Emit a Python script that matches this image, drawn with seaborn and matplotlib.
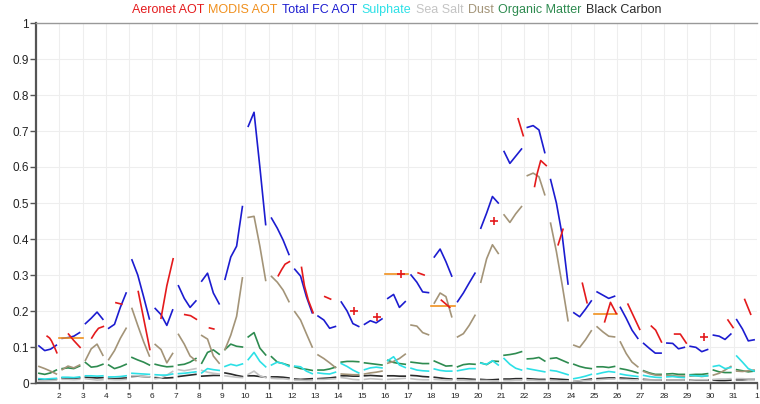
import numpy as np
import pandas as pd
import matplotlib
matplotlib.use('Agg')
import matplotlib.pyplot as plt
import seaborn as sns
from matplotlib.lines import Line2D

# forecast values: 4 per day (03, 09, 15, 21 UTC), days 1..31
days = list(range(1, 32))
fc_hours = [3, 9, 15, 21]

total_fc = [
    0.103, 0.090, 0.094, 0.105,  0.124, 0.126, 0.130, 0.140,  0.165, 0.180, 0.197, 0.177,
    0.152, 0.163, 0.210, 0.250,  0.342, 0.300, 0.240, 0.178,  0.207, 0.190, 0.160, 0.203,
    0.270, 0.235, 0.210, 0.228,  0.283, 0.305, 0.250, 0.220,  0.288, 0.350, 0.380, 0.490,
    0.713, 0.752, 0.600, 0.440,  0.458, 0.430, 0.397, 0.357,  0.316, 0.297, 0.240, 0.195,
    0.186, 0.175, 0.152, 0.157,  0.225, 0.200, 0.165, 0.157,  0.163, 0.173, 0.167, 0.178,
    0.235, 0.246, 0.210, 0.226,  0.300, 0.280, 0.253, 0.251,  0.350, 0.372, 0.337, 0.297,
    0.226, 0.250, 0.278, 0.305,  0.430, 0.472, 0.518, 0.500,  0.643, 0.610, 0.630, 0.650,
    0.710, 0.715, 0.703, 0.640,  0.565, 0.500, 0.410, 0.275,  0.195, 0.184, 0.205, 0.228,
    0.253, 0.244, 0.235, 0.241,  0.210, 0.180, 0.147, 0.124,  0.110, 0.096, 0.083, 0.083,
    0.111, 0.110, 0.095, 0.099,  0.102, 0.099, 0.087, 0.093,  0.133, 0.130, 0.121, 0.136,
    0.176, 0.150, 0.117, 0.120,
]
dust = [
    0.046, 0.040, 0.033, 0.025,  0.037, 0.047, 0.042, 0.050,  0.063, 0.095, 0.108, 0.077,
    0.065, 0.090, 0.124, 0.152,  0.207, 0.160, 0.115, 0.075,  0.107, 0.093, 0.056, 0.082,
    0.135, 0.108, 0.075, 0.062,  0.132, 0.122, 0.075, 0.055,  0.093, 0.133, 0.185, 0.292,
    0.460, 0.463, 0.380, 0.285,  0.296, 0.280, 0.258, 0.226,  0.198, 0.175, 0.137, 0.100,
    0.078, 0.068, 0.056, 0.043,  0.025, 0.024, 0.023, 0.023,  0.025, 0.028, 0.030, 0.033,
    0.055, 0.060, 0.068, 0.080,  0.161, 0.158, 0.140, 0.134,  0.222, 0.250, 0.240, 0.184,
    0.128, 0.137, 0.160, 0.188,  0.280, 0.345, 0.384, 0.360,  0.467, 0.446, 0.470, 0.490,
    0.576, 0.583, 0.573, 0.523,  0.444, 0.365, 0.272, 0.173,  0.105, 0.099, 0.120, 0.145,
    0.156, 0.142, 0.130, 0.128,  0.114, 0.082, 0.058, 0.045,  0.032, 0.026, 0.022, 0.021,
    0.020, 0.020, 0.019, 0.019,  0.019, 0.020, 0.018, 0.020,  0.022, 0.027, 0.036, 0.046,
    0.033, 0.032, 0.034, 0.036,
]
organic = [
    0.027, 0.024, 0.028, 0.036,  0.040, 0.042, 0.040, 0.047,  0.057, 0.044, 0.046, 0.052,
    0.050, 0.040, 0.045, 0.052,  0.071, 0.064, 0.058, 0.050,  0.052, 0.048, 0.045, 0.046,
    0.050, 0.052, 0.058, 0.068,  0.055, 0.085, 0.092, 0.080,  0.093, 0.108, 0.102, 0.100,
    0.128, 0.140, 0.097, 0.078,  0.073, 0.058, 0.054, 0.049,  0.045, 0.040, 0.038, 0.035,
    0.036, 0.036, 0.039, 0.044,  0.058, 0.060, 0.060, 0.059,  0.056, 0.054, 0.052, 0.050,
    0.063, 0.057, 0.054, 0.052,  0.058, 0.056, 0.054, 0.054,  0.061, 0.054, 0.047, 0.048,
    0.045, 0.051, 0.053, 0.052,  0.056, 0.051, 0.061, 0.060,  0.077, 0.079, 0.082, 0.087,
    0.067, 0.068, 0.071, 0.061,  0.068, 0.070, 0.063, 0.056,  0.052, 0.046, 0.042, 0.040,
    0.045, 0.045, 0.043, 0.046,  0.040, 0.037, 0.033, 0.028,  0.034, 0.028, 0.024, 0.024,
    0.025, 0.026, 0.024, 0.024,  0.023, 0.024, 0.024, 0.026,  0.036, 0.031, 0.029, 0.029,
    0.037, 0.034, 0.031, 0.033,
]
sulphate = [
    0.012, 0.011, 0.012, 0.013,  0.016, 0.016, 0.015, 0.017,  0.020, 0.020, 0.019, 0.020,
    0.017, 0.017, 0.018, 0.020,  0.027, 0.026, 0.025, 0.024,  0.023, 0.022, 0.022, 0.025,
    0.026, 0.027, 0.029, 0.031,  0.028, 0.040, 0.037, 0.035,  0.046, 0.052, 0.048, 0.053,
    0.065, 0.085, 0.060, 0.045,  0.050, 0.058, 0.054, 0.046,  0.047, 0.045, 0.033, 0.026,
    0.028, 0.026, 0.025, 0.030,  0.054, 0.046, 0.036, 0.028,  0.037, 0.042, 0.044, 0.042,
    0.062, 0.073, 0.050, 0.043,  0.041, 0.036, 0.034, 0.033,  0.039, 0.035, 0.033, 0.033,
    0.034, 0.037, 0.040, 0.040,  0.055, 0.052, 0.062, 0.050,  0.068, 0.052, 0.041, 0.036,
    0.040, 0.037, 0.034, 0.031,  0.035, 0.033, 0.028, 0.023,  0.012, 0.015, 0.019, 0.024,
    0.025, 0.029, 0.032, 0.030,  0.025, 0.022, 0.020, 0.018,  0.021, 0.018, 0.016, 0.015,
    0.017, 0.018, 0.016, 0.015,  0.021, 0.020, 0.019, 0.020,  0.046, 0.049, 0.040, 0.043,
    0.075, 0.058, 0.040, 0.033,
]
sea_salt = [
    0.006, 0.006, 0.007, 0.008,  0.010, 0.010, 0.009, 0.010,  0.012, 0.010, 0.008, 0.009,
    0.010, 0.009, 0.009, 0.010,  0.020, 0.020, 0.018, 0.017,  0.012, 0.014, 0.022, 0.032,
    0.037, 0.034, 0.037, 0.040,  0.035, 0.030, 0.027, 0.025,  0.020, 0.018, 0.016, 0.015,
    0.024, 0.033, 0.020, 0.015,  0.013, 0.012, 0.012, 0.010,  0.008, 0.008, 0.007, 0.007,
    0.010, 0.010, 0.011, 0.012,  0.015, 0.013, 0.010, 0.009,  0.010, 0.012, 0.011, 0.010,
    0.010, 0.011, 0.012, 0.013,  0.012, 0.010, 0.009, 0.009,  0.010, 0.009, 0.008, 0.008,
    0.008, 0.008, 0.007, 0.007,  0.007, 0.007, 0.006, 0.006,  0.007, 0.007, 0.008, 0.008,
    0.008, 0.008, 0.007, 0.007,  0.007, 0.007, 0.006, 0.006,  0.005, 0.006, 0.007, 0.008,
    0.009, 0.010, 0.011, 0.011,  0.010, 0.010, 0.009, 0.009,  0.008, 0.008, 0.008, 0.008,
    0.008, 0.008, 0.008, 0.008,  0.008, 0.009, 0.009, 0.009,  0.010, 0.011, 0.011, 0.012,
    0.012, 0.012, 0.011, 0.011,
]
black_carbon = [
    0.009, 0.008, 0.009, 0.011,  0.014, 0.013, 0.013, 0.014,  0.016, 0.015, 0.014, 0.015,
    0.013, 0.012, 0.013, 0.014,  0.018, 0.019, 0.018, 0.017,  0.015, 0.014, 0.014, 0.015,
    0.018, 0.020, 0.022, 0.024,  0.019, 0.020, 0.021, 0.021,  0.028, 0.025, 0.021, 0.018,
    0.020, 0.020, 0.018, 0.016,  0.017, 0.017, 0.016, 0.014,  0.011, 0.010, 0.011, 0.012,
    0.012, 0.013, 0.014, 0.016,  0.020, 0.020, 0.019, 0.019,  0.020, 0.021, 0.020, 0.019,
    0.020, 0.020, 0.019, 0.019,  0.021, 0.020, 0.018, 0.017,  0.016, 0.014, 0.012, 0.011,
    0.012, 0.012, 0.011, 0.010,  0.010, 0.009, 0.009, 0.010,  0.011, 0.011, 0.012, 0.012,
    0.012, 0.011, 0.010, 0.010,  0.012, 0.011, 0.010, 0.009,  0.004, 0.006, 0.009, 0.011,
    0.012, 0.013, 0.014, 0.014,  0.014, 0.013, 0.012, 0.011,  0.010, 0.009, 0.008, 0.008,
    0.009, 0.009, 0.009, 0.009,  0.008, 0.008, 0.008, 0.008,  0.008, 0.007, 0.007, 0.008,
    0.009, 0.009, 0.010, 0.010,
]

# Aeronet observations (day, hour UTC, AOT)
aeronet_day = [1, 1, 1, 1, 1, 2, 2, 2, 3, 3, 3, 3, 4, 4, 5, 5, 6, 6, 6, 7, 7, 7, 8, 8,
               11, 11, 11, 11, 12, 12, 12, 12, 13, 13, 14, 15, 16, 17, 17, 18, 18, 20,
               21, 21, 22, 22, 22, 22, 23, 23, 24, 24, 25, 25, 25, 26, 26, 27, 27, 27,
               28, 28, 28, 29, 30, 30, 31, 31]
aeronet_hour = [11.5, 14, 16, 19, 21.5, 9.5, 15, 21.5, 9.5, 13, 16.5, 21.5, 10.5, 16.5,
                9.5, 21.5, 9, 15, 21.5, 9.5, 15.5, 21.5, 11, 15.5,
                10, 13.5, 17, 21.5, 10, 13, 17, 22, 10, 16, 16, 16, 16.3, 10.3, 16.5,
                10.3, 19, 16.3, 17.5, 22.8, 10.5, 13, 16.8, 22.5, 10.8, 15.8,
                11.8, 16.6, 10.8, 16.8, 22.8, 10.8, 23, 11, 15.4, 21.4,
                11, 16.8, 23, 17, 18, 23.3, 11.3, 17.5]
aeronet_aot = [0.130, 0.125, 0.117, 0.100, 0.084, 0.136, 0.118, 0.099, 0.125, 0.140,
               0.152, 0.157, 0.223, 0.219, 0.254, 0.093, 0.180, 0.270, 0.345, 0.190,
               0.187, 0.177, 0.153, 0.150,
               0.298, 0.315, 0.330, 0.337, 0.321, 0.270, 0.230, 0.195, 0.240, 0.233,
               0.200, 0.184, 0.302, 0.306, 0.300, 0.230, 0.210, 0.451, 0.734, 0.687,
               0.546, 0.580, 0.618, 0.604, 0.384, 0.427, 0.277, 0.223, 0.170, 0.224,
               0.193, 0.219, 0.149, 0.158, 0.147, 0.114, 0.136, 0.136, 0.111, 0.128,
               0.175, 0.154, 0.232, 0.191]

# MODIS daily values
modis_day = [2, 16, 18, 25]
modis_aot = [0.125, 0.302, 0.215, 0.193]

colors = {
    'Aeronet AOT': '#e41a1c',
    'MODIS AOT': '#f0901e',
    'Total FC AOT': '#1c1cd0',
    'Sulphate': '#2de0e6',
    'Sea Salt': '#c4c4c4',
    'Dust': '#a39478',
    'Organic Matter': '#2e8b50',
    'Black Carbon': '#2a2a2a',
}
legend_order = ['Aeronet AOT', 'MODIS AOT', 'Total FC AOT', 'Sulphate', 'Sea Salt',
                'Dust', 'Organic Matter', 'Black Carbon']
draw_order = ['Black Carbon', 'Sea Salt', 'Organic Matter', 'Dust', 'Sulphate',
              'Total FC AOT', 'MODIS AOT', 'Aeronet AOT']

# long table
rows = []
fc_series = {'Total FC AOT': total_fc, 'Dust': dust, 'Organic Matter': organic,
             'Sulphate': sulphate, 'Sea Salt': sea_salt, 'Black Carbon': black_carbon}
for name, vals in fc_series.items():
    for i, d in enumerate(days):
        for j, h in enumerate(fc_hours):
            rows.append((name, d, d + h / 24, vals[i * 4 + j]))
for d, v in zip(modis_day, modis_aot):
    rows.append(('MODIS AOT', d, d, v))
    rows.append(('MODIS AOT', d, d + 1, v))
for d, h, v in zip(aeronet_day, aeronet_hour, aeronet_aot):
    rows.append(('Aeronet AOT', d, d + h / 24, v))
df = pd.DataFrame(rows, columns=['series', 'day', 'time', 'aot'])

fig = plt.figure(figsize=(7.6, 4.04), dpi=100)
ax = fig.add_axes([36 / 760, 21 / 404, 721 / 760, 360 / 404])
plt.rcParams['font.family'] = ['Liberation Sans', 'DejaVu Sans']

sns.lineplot(data=df, x='time', y='aot', hue='series', units='day', estimator=None,
             hue_order=draw_order, palette=colors, sort=True, lw=1.2, legend=False, ax=ax)

# single Aeronet points drawn as crosses
aer = df[df['series'] == 'Aeronet AOT']
single = aer[aer.groupby('day')['day'].transform('size') == 1]
ax.scatter(single['time'], single['aot'], marker='+', s=40, lw=1.2,
           color=colors['Aeronet AOT'], zorder=5)

ax.set_xlim(1, 32)
ax.set_ylim(0, 1)
ax.set_xticks(range(2, 33))
ax.set_xticklabels([str(d) for d in range(2, 32)] + ['1'], fontsize=6, family='Liberation Sans')
ax.set_yticks(np.arange(0, 1.01, 0.1))
ax.set_yticklabels(['0', '0.1', '0.2', '0.3', '0.4', '0.5', '0.6', '0.7', '0.8', '0.9', '1'],
                   fontsize=8.5, family='Liberation Sans')
ax.set_xlabel('')
ax.set_ylabel('')
ax.grid(True, color='#eeeeee', lw=0.8)
ax.set_axisbelow(True)
ax.tick_params(axis='both', length=4, width=1, color='#555555', labelcolor='#222222')
ax.tick_params(axis='x', pad=3)
ax.tick_params(axis='y', pad=1)
for s in ['left', 'bottom']:
    ax.spines[s].set_color('#555555')
    ax.spines[s].set_linewidth(1.6)
ax.spines['top'].set_color('#999999')
ax.spines['top'].set_linewidth(1)
ax.spines['right'].set_visible(False)

handles = [Line2D([], [], lw=0) for _ in legend_order]
fig.legend(handles, legend_order, loc='center', bbox_to_anchor=(396.5 / 760, 1 - 10 / 404),
           ncol=8, frameon=False, handlelength=0, handletextpad=0, columnspacing=0.35,
           labelcolor=[colors[n] for n in legend_order],
           prop={'family': 'Liberation Sans', 'size': 9}, borderpad=0)

fig.savefig('out.png', dpi=100)
